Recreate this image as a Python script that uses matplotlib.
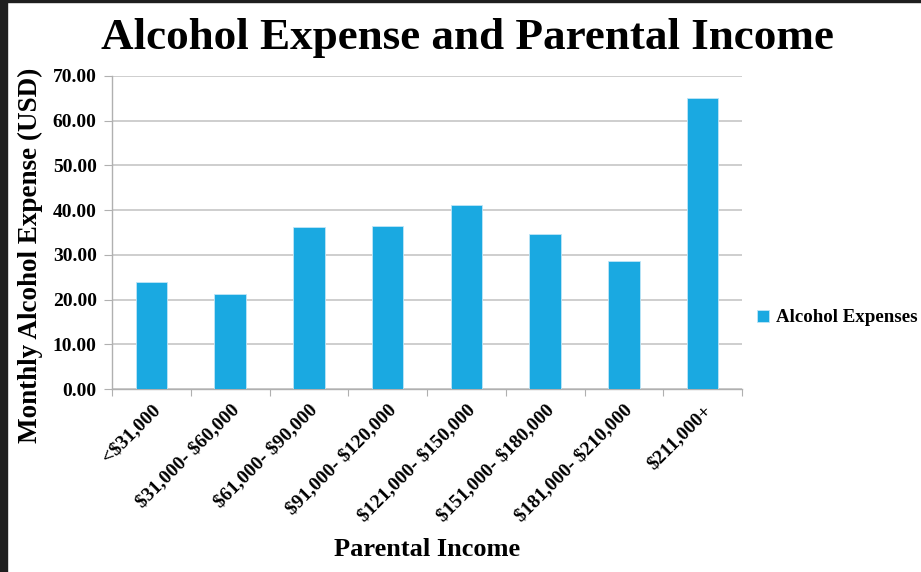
import numpy as np
import matplotlib.pyplot as plt
from matplotlib.patches import Rectangle

# Income brackets and average monthly alcohol spending
income_brackets = ["<$31,000", "$31,000- $60,000", "$61,000- $90,000",
                   "$91,000- $120,000", "$121,000- $150,000", "$151,000- $180,000",
                   "$181,000- $210,000", "$211,000+"]
alcohol_expense = [24.0, 21.2, 36.2, 36.5, 41.2, 34.6, 28.7, 65.0]
y_ticks = [0, 10, 20, 30, 40, 50, 60, 70]

plt.rcParams['font.family'] = ['Liberation Serif', 'DejaVu Serif']
plt.rcParams['font.weight'] = 'bold'
plt.rcParams['text.parse_math'] = False

W, H = 921, 572
fig = plt.figure(figsize=(W / 100, H / 100), dpi=100)

# dark frame on left and top edges
fig.patches.append(Rectangle((0, 0), 7 / W, 1, transform=fig.transFigure,
                             color='#1f1f1f', zorder=0))
fig.patches.append(Rectangle((0, 1 - 2 / H), 1, 2 / H, transform=fig.transFigure,
                             color='#1f1f1f', zorder=0))

left, right = 112 / W, 742 / W
top, bottom = 1 - 76 / H, 1 - 389 / H
ax = fig.add_axes([left, bottom, right - left, top - bottom])

x = np.arange(len(income_brackets))
bars = ax.bar(x, alcohol_expense, width=0.4, color='#1aa9e1',
              edgecolor='#bfe6f7', linewidth=0.6, zorder=3,
              label="Alcohol Expenses")

ax.set_xlim(-0.5, len(income_brackets) - 0.5)
ax.set_ylim(0, 70)
ax.set_yticks(y_ticks)
ax.set_yticklabels([f"{v:.2f}" for v in y_ticks], fontsize=14, fontweight='bold')
ax.yaxis.grid(True, color='#c6c6c6', linewidth=1.2, zorder=0)
ax.set_axisbelow(True)

# category boundary ticks on the x axis, labels centred under bars
ax.set_xticks(np.arange(len(income_brackets) + 1) - 0.5)
ax.set_xticklabels([])
ax.set_xticks(x, minor=True)
ax.set_xticklabels(income_brackets, minor=True, rotation=45, ha='right',
                   va='top', rotation_mode='anchor', fontsize=14,
                   fontweight='bold')
ax.tick_params(axis='x', which='minor', length=0, pad=9)
ax.tick_params(axis='x', which='major', length=5, color='#b0b0b0')
ax.tick_params(axis='y', length=6, color='#b0b0b0', pad=5)

for side in ['top', 'right']:
    ax.spines[side].set_visible(False)
for side in ['left', 'bottom']:
    ax.spines[side].set_color('#b0b0b0')
    ax.spines[side].set_linewidth(1.0)

fig.text(0.5 * (105 + 830) / W, 1 - 38 / H, "Alcohol Expense and Parental Income",
         ha='center', va='center', fontsize=32.5, fontweight='bold')
fig.text(30 / W, 1 - 255 / H, "Monthly Alcohol Expense (USD)", rotation=90,
         ha='center', va='center', fontsize=19.5, fontweight='bold')
fig.text(427 / W, 1 - 549 / H, "Parental Income", ha='center', va='center',
         fontsize=19, fontweight='bold')

fig.legend(handles=[bars], loc='center left',
           bbox_to_anchor=(757 / W, 1 - 318 / H), frameon=False,
           borderaxespad=0, borderpad=0,
           handlelength=0.65, handleheight=0.65, handletextpad=0.35,
           prop={'weight': 'bold', 'size': 13.6})

plt.savefig("out.png", dpi=100)
